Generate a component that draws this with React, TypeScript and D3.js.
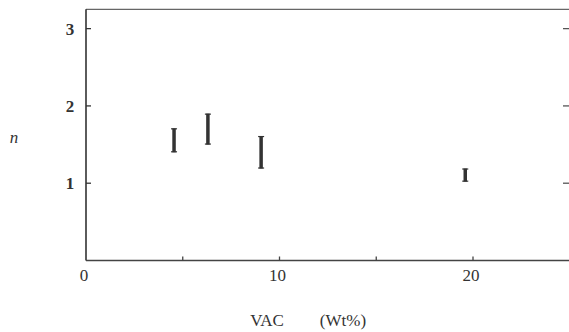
import React from 'react';
import * as d3 from 'd3';

// error bars: VAC content vs n (low / high)
const vacContent = [4.55, 6.3, 9.05, 19.6];
const nLow = [1.4, 1.5, 1.19, 1.02];
const nHigh = [1.71, 1.9, 1.61, 1.19];

const xLabelTicks = [0, 10, 20];
const xMinorTicks = [5, 15];
const yTicks = [1, 2, 3];

const W = 569;
const H = 332;
const serif = '"Liberation Serif", "DejaVu Serif", serif';

export default function App() {
  const x = d3.scaleLinear().domain([0, 25]).range([86, 569.75]);
  const y = d3.scaleLinear().domain([0, 3.25]).range([260.5, 9.3]);

  const bars = vacContent.map((v, i) => ({ v, lo: nLow[i], hi: nHigh[i] }));

  return (
    <svg width={W} height={H} style={{ position: 'absolute', left: 0, top: 0, background: '#fff' }}>
      {/* frame */}
      <line x1={x(0)} x2={W} y1={y(3.25)} y2={y(3.25)} stroke="#666" strokeWidth={1.3} />
      <line x1={x(0)} x2={x(0)} y1={y(3.25)} y2={y(0)} stroke="#333" strokeWidth={1.6} />
      <line x1={x(0)} x2={W} y1={y(0)} y2={y(0)} stroke="#444" strokeWidth={1.5} />

      {/* x ticks (inward) */}
      {xLabelTicks.concat(xMinorTicks).filter(t => t > 0).map(t => (
        <line key={'xt' + t} x1={x(t)} x2={x(t)} y1={y(0)} y2={y(0) - 4} stroke="#444" strokeWidth={1.3} />
      ))}
      {xLabelTicks.map(t => (
        <text key={'xl' + t} x={x(t) - 2} y={y(0) + 20} textAnchor="middle" fontFamily={serif} fontSize={17} fill="#333">
          {t}
        </text>
      ))}

      {/* y ticks left and right */}
      {yTicks.map(t => (
        <g key={'yt' + t}>
          <line x1={x(0)} x2={x(0) + 5} y1={y(t)} y2={y(t)} stroke="#333" strokeWidth={1.3} />
          <line x1={W - 6} x2={W} y1={y(t)} y2={y(t)} stroke="#555" strokeWidth={1.3} />
          <text x={x(0) - 16} y={y(t) + 6} textAnchor="middle" fontFamily={serif} fontSize={17} fontWeight="bold" fill="#333">
            {t}
          </text>
        </g>
      ))}

      {/* error bars */}
      {bars.map((b, i) => (
        <g key={'b' + i} stroke="#333">
          <line x1={x(b.v)} x2={x(b.v)} y1={y(b.hi)} y2={y(b.lo)} strokeWidth={3.5} />
          <line x1={x(b.v) - 3} x2={x(b.v) + 3} y1={y(b.hi) + 0.5} y2={y(b.hi) + 0.5} strokeWidth={1.2} />
          <line x1={x(b.v) - 3} x2={x(b.v) + 3} y1={y(b.lo) - 0.5} y2={y(b.lo) - 0.5} strokeWidth={1.2} />
        </g>
      ))}

      {/* axis titles */}
      <text x={14} y={143} textAnchor="middle" fontFamily={serif} fontSize={17} fontStyle="italic" fill="#333">n</text>
      <text x={267} y={326} textAnchor="middle" fontFamily={serif} fontSize={17} fill="#333">VAC</text>
      <text x={343} y={326} textAnchor="middle" fontFamily={serif} fontSize={17} fill="#333">(Wt%)</text>
    </svg>
  );
}
